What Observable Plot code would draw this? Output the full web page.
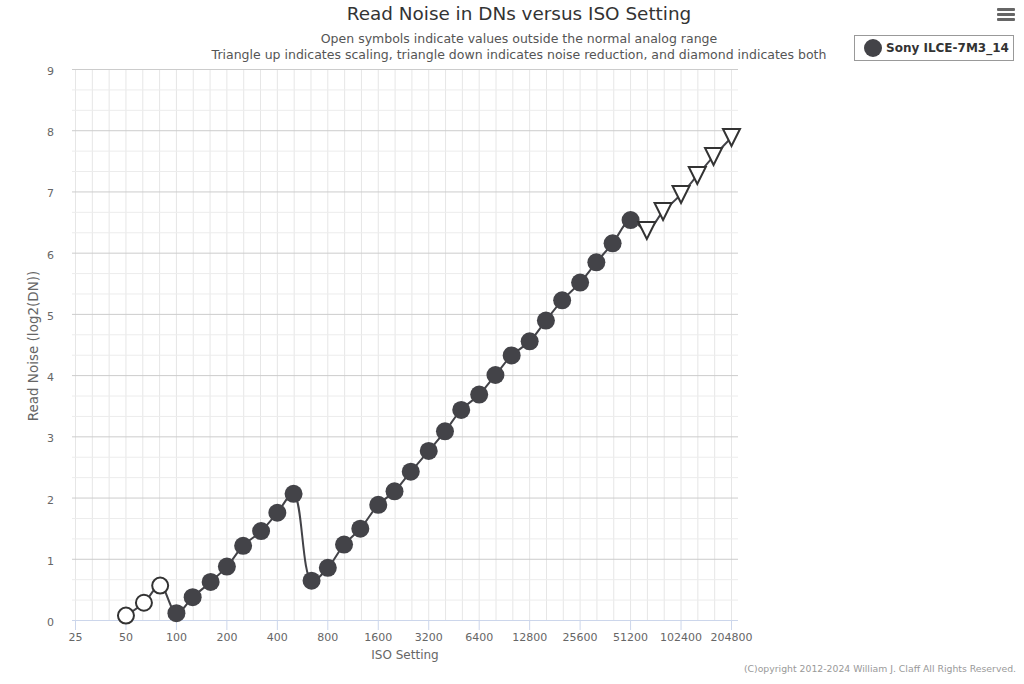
<!DOCTYPE html>
<html>
<head>
<meta charset="utf-8">
<script src="https://cdn.jsdelivr.net/npm/d3@7"></script>
<script src="https://cdn.jsdelivr.net/npm/@observablehq/plot@0.6"></script>
<style>
  html, body { margin: 0; padding: 0; background: #fff; }
  #wrap { position: relative; width: 1024px; height: 684px; overflow: hidden; font-family: "DejaVu Sans", sans-serif; }
  #wrap svg { position: absolute; left: 0; top: 0; }
  .abs { position: absolute; white-space: nowrap; }
  #title { left: 0; width: 1038px; top: 3px; text-align: center; font-size: 18.4px; color: #333; }
  #sub1, #sub2 { left: 0; width: 1038px; text-align: center; font-size: 12.5px; color: #555; }
  #sub1 { top: 31px; }
  #sub2 { top: 47px; }
  #legend { left: 854px; top: 35px; width: 160px; height: 26px; border: 1px solid #999; box-sizing: border-box; }
  #legend .mk { position: absolute; left: 9px; top: 3px; width: 18px; height: 18px; border-radius: 50%; background: #434348; }
  #legend .lt { position: absolute; left: 31px; top: 5px; font-size: 12px; font-weight: bold; color: #333; }
  #menu { left: 997px; top: 8px; width: 18px; height: 14px; }
  #menu div { position: absolute; left: 0; width: 18px; height: 3px; background: #666; border-radius: 1px; }
  #ytitle { left: 33px; top: 346px; transform: translate(-50%, -50%) rotate(-90deg); font-size: 13.5px; color: #666; }
  #xtitle { left: 405px; top: 648px; transform: translateX(-50%); font-size: 12px; color: #666; }
  #copy { right: 8px; top: 663px; font-size: 9.3px; color: #999; }
</style>
</head>
<body>
<div id="wrap">
  <div id="chart"></div>
  <div class="abs" id="title">Read Noise in DNs versus ISO Setting</div>
  <div class="abs" id="sub1">Open symbols indicate values outside the normal analog range</div>
  <div class="abs" id="sub2">Triangle up indicates scaling, triangle down indicates noise reduction, and diamond indicates both</div>
  <div class="abs" id="legend"><div class="mk"></div><div class="lt">Sony ILCE-7M3_14</div></div>
  <div class="abs" id="menu"><div style="top:0"></div><div style="top:5px"></div><div style="top:10px"></div></div>
  <div class="abs" id="ytitle">Read Noise (log2(DN))</div>
  <div class="abs" id="xtitle">ISO Setting</div>
  <div class="abs" id="copy">(C)opyright 2012-2024 William J. Claff All Rights Reserved.</div>
</div>
<script>
// ---- Data ----
const isoValues = [50, 64, 80, 100, 125, 160, 200, 250, 320, 400, 500, 640, 800, 1000, 1250, 1600,
  2000, 2500, 3200, 4000, 5000, 6400, 8000, 10000, 12800, 16000, 20000, 25600, 32000, 40000,
  51200, 64000, 80000, 102400, 128000, 160000, 204800];
const readNoise = [0.08, 0.29, 0.57, 0.12, 0.38, 0.63, 0.88, 1.22, 1.46, 1.76, 2.07, 0.65, 0.86,
  1.24, 1.50, 1.89, 2.11, 2.43, 2.77, 3.09, 3.44, 3.69, 4.01, 4.33, 4.56, 4.90, 5.23, 5.52, 5.85,
  6.16, 6.54, 6.37, 6.68, 6.96, 7.27, 7.58, 7.89];
const markerType = ["open", "open", "open", "filled", "filled", "filled", "filled", "filled", "filled",
  "filled", "filled", "filled", "filled", "filled", "filled", "filled", "filled", "filled", "filled",
  "filled", "filled", "filled", "filled", "filled", "filled", "filled", "filled", "filled", "filled",
  "filled", "filled", "down", "down", "down", "down", "down", "down"];
const xTickLabels = [25, 50, 100, 200, 400, 800, 1600, 3200, 6400, 12800, 25600, 51200, 102400, 204800];
const yTickLabels = [0, 1, 2, 3, 4, 5, 6, 7, 8, 9];

const data = isoValues.map((iso, i) => ({iso, noise: readNoise[i], type: markerType[i]}));

// third-stop grid (minor)
const xMinor = d3.range(0, 3 * (xTickLabels.length - 1) + 1).map(k => 25 * Math.pow(2, k / 3));
const yMinor = d3.range(0, 28).map(k => k / 3).filter(v => Math.abs(v - Math.round(v)) > 1e-6);

const triDown = {
  draw(context, size) {
    const r = Math.sqrt(size / Math.PI);
    context.moveTo(-r, -r);
    context.lineTo(r, -r);
    context.lineTo(0, r);
    context.closePath();
  }
};

const color = "#434348";
const plot = Plot.plot({
  width: 1024,
  height: 684,
  marginLeft: 72,
  marginRight: 286,
  marginTop: 69,
  marginBottom: 64,
  style: {fontFamily: "DejaVu Sans, sans-serif", fontSize: "11px", background: "transparent"},
  x: {type: "log", base: 2, domain: [25 * Math.pow(2, -3 / 50.46), 204800 * Math.pow(2, 7 / 50.46)], axis: null},
  y: {domain: [0, 9], axis: null},
  marks: [
    Plot.ruleX(xMinor, {stroke: "#e6e6e6", strokeWidth: 1}),
    Plot.ruleY(yMinor, {stroke: "#ececec", strokeWidth: 1}),
    Plot.ruleY(yTickLabels, {stroke: "#cccccc", strokeWidth: 1}),
    Plot.ruleY([0], {stroke: "#ccd6eb", strokeWidth: 1}),
    Plot.axisX({ticks: xTickLabels, tickSize: 10, tickPadding: 3, stroke: "#ccd6eb", fill: "#666",
      tickFormat: d => String(d), fontSize: 11, label: null}),
    Plot.axisY({ticks: yTickLabels, tickSize: 0, tickPadding: 18.5, fill: "#666", fontSize: 11,
      tickFormat: d => String(d), dy: 2, label: null}),
    Plot.line(data, {x: "iso", y: "noise", stroke: color, strokeWidth: 2, curve: "catmull-rom"}),
    Plot.dot(data.filter(d => d.type === "filled"), {x: "iso", y: "noise", r: 9, fill: color, stroke: "none"}),
    Plot.dot(data.filter(d => d.type === "open"), {x: "iso", y: "noise", r: 8, fill: "white", stroke: "#333", strokeWidth: 2}),
    Plot.dot(data.filter(d => d.type === "down"), {x: "iso", y: "noise", r: 8.5, symbol: triDown, fill: "white", stroke: "#333", strokeWidth: 2})
  ]
});
document.getElementById("chart").appendChild(plot);
</script>
</body>
</html>
